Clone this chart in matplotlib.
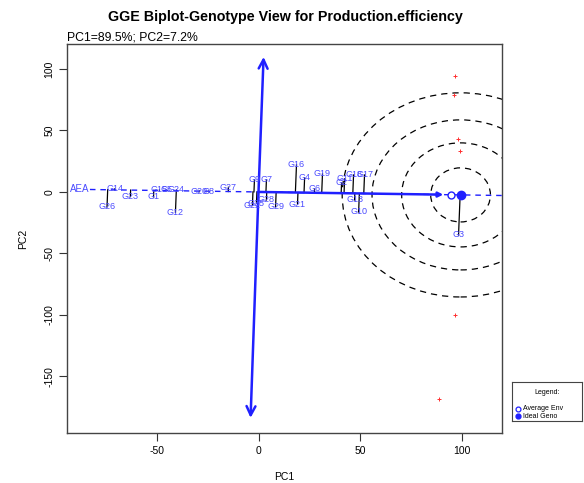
import matplotlib
matplotlib.use('Agg')
import matplotlib.pyplot as plt
import numpy as np
from matplotlib.patches import Ellipse

plt.rcParams['font.family'] = ['Liberation Sans', 'DejaVu Sans']
plt.rcParams['axes.unicode_minus'] = False

# ---------------- data ----------------
title = "GGE Biplot-Genotype View for Production.efficiency"
subtitle = "PC1=89.5%; PC2=7.2%"

geno_names = ["G1", "G2", "G3", "G4", "G5", "G6", "G7", "G8", "G9", "G10",
              "G11", "G12", "G13", "G14", "G15", "G16", "G17", "G18", "G19", "G20",
              "G21", "G22", "G23", "G24", "G25", "G26", "G27", "G28", "G29"]
geno_pc1 = [-51.7, 40.9, 98.5, 22.7, -45.3, 27.6, 3.9, -24.6, -2.0, 49.3,
            42.4, -40.9, 47.3, -70.9, -48.8, 18.7, 52.2, 46.8, 31.5, -29.1,
            19.2, -3.0, -63.1, -40.4, -1.0, -74.6, -14.8, 3.9, 8.4]
geno_pc2 = [-4.0, 7.3, -35.0, 11.4, 1.6, 2.4, 9.8, 0.2, 9.8, -16.3,
            10.6, -16.5, -6.5, 2.4, 1.6, 22.0, 13.8, 13.8, 14.6, 0.2,
            -9.8, -11.0, -3.8, 1.6, -9.0, -12.2, 3.8, -6.5, -12.0]

env_pc1 = [96.6, 96.1, 98.0, 99.0, 96.6, 88.7]
env_pc2 = [94.0, 79.0, 43.0, 33.5, -100.0, -168.0]

avg_env = (94.9, -2.3)
ideal = (99.5, -2.4)
arrow_tip = (91.0, -2.2)
atc_top = (2.5, 109.8)
atc_bottom = (-3.9, -183.7)
aea_label_pos = (-88.2, 2.0)
circle_rx = [14.7, 29.0, 43.6, 58.3]
circle_ry = [22.0, 42.3, 61.0, 83.0]

xticks = [-50, 0, 50, 100]
yticks = [-150, -100, -50, 0, 50, 100]

# ---------------- figure ----------------
W, H = 584, 483
fig = plt.figure(figsize=(W / 100, H / 100), dpi=100)
ax = fig.add_axes([67 / W, 50 / H, 435 / W, 389 / H])
ax.set_xlim(-94.3, 119.9)
ax.set_ylim(-196, 120.3)

blue = '#2020ff'
lab_blue = '#4a4aff'

# concentric circles around the ideal genotype
for rx, ry in zip(circle_rx, circle_ry):
    ax.add_patch(Ellipse(ideal, 2 * rx, 2 * ry, fill=False, edgecolor='black',
                         lw=0.9, ls=(0, (5, 4))))

# AEA line (dashed)
slope = ideal[1] / ideal[0]
xl0, xl1 = -83.0, 125.0
ax.plot([xl0, xl1], [slope * xl0, slope * xl1], color=blue, lw=1.0,
        ls=(0, (4, 3.5)), zorder=3)

# projections of genotypes on AEA
d = np.array([1.0, slope]) / np.hypot(1.0, slope)
for gx, gy in zip(geno_pc1, geno_pc2):
    p = np.array([gx, gy])
    foot = d * p.dot(d)
    ax.plot([gx, foot[0]], [gy, foot[1]], color='black', lw=0.9, zorder=2)

# solid arrow along AEA
ax.annotate('', xy=arrow_tip, xytext=(0, 0),
            arrowprops=dict(arrowstyle='-|>', color=blue, lw=1.8,
                            mutation_scale=7, shrinkA=0, shrinkB=0), zorder=4)
# ATC ordinate double arrow
for tip in (atc_top, atc_bottom):
    ax.annotate('', xy=tip, xytext=(0, 0),
                arrowprops=dict(arrowstyle='->', color=blue, lw=1.8,
                                mutation_scale=16, shrinkA=0, shrinkB=0), zorder=4)

# average env and ideal markers
ax.plot(*avg_env, marker='o', ms=5, mfc='white', mec=blue, mew=1.0, zorder=5)
ax.plot(*ideal, marker='o', ms=6, color=blue, zorder=5)

# environment points
ax.plot(env_pc1, env_pc2, ls='none', marker='+', ms=3, mew=0.7, color='#ff3030', zorder=3)

# genotype labels
for name, gx, gy in zip(geno_names, geno_pc1, geno_pc2):
    ax.text(gx, gy, name, color=lab_blue, fontsize=6.5, ha='center', va='center', zorder=6)
ax.text(*aea_label_pos, "AEA", color=lab_blue, fontsize=7, ha='center', va='center', zorder=6)

# axes styling
ax.set_xticks(xticks)
ax.set_yticks(yticks)
ax.set_yticklabels([str(v) for v in yticks], rotation=90, va='center')
ax.tick_params(direction='out', length=6, width=0.8, labelsize=7.5, color='#333333', pad=3)
for sp in ax.spines.values():
    sp.set_color('#444444')
    sp.set_linewidth(1.0)
ax.set_xlabel('PC1', fontsize=7.5, labelpad=12)
ax.set_ylabel('PC2', fontsize=7.5, labelpad=12)

fig.text(285.5 / W, 1 - 17.5 / H, title, ha='center', va='center',
         fontweight='bold', fontsize=10.3)
fig.text(67 / W, 1 - 37 / H, subtitle, ha='left', va='center', fontsize=8.8)

# legend box
lax = fig.add_axes([512 / W, (H - 421) / H, 70 / W, 39 / H])
lax.set_xlim(0, 70)
lax.set_ylim(39, 0)
lax.set_xticks([])
lax.set_yticks([])
for sp in lax.spines.values():
    sp.set_color('#444444')
    sp.set_linewidth(0.8)
lax.text(35, 11, "Legend:", fontsize=5, ha='center', va='center')
lax.plot(6, 27, marker='o', ms=3.5, mfc='white', mec=blue, mew=0.9)
lax.plot(6, 34, marker='o', ms=3.5, color=blue)
lax.text(11, 27, "Average Env", fontsize=5, ha='left', va='center')
lax.text(11, 34, "Ideal Geno", fontsize=5, ha='left', va='center')

fig.savefig('out.png', dpi=100)
